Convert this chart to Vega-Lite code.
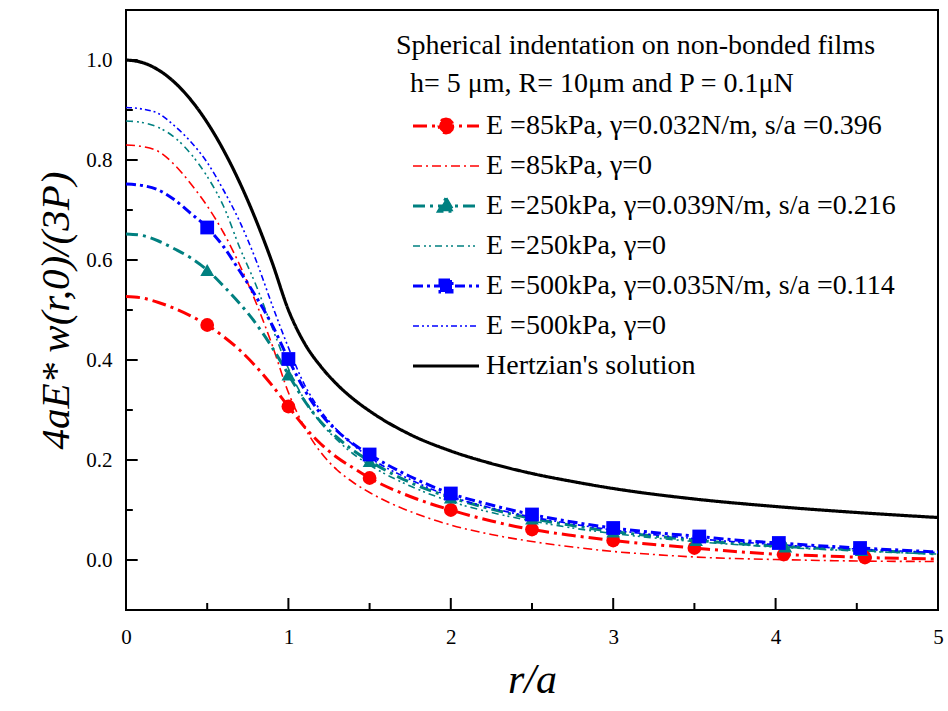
{
  "$schema": "https://vega.github.io/schema/vega-lite/v6.json",
  "width": 812,
  "height": 600,
  "autosize": {"type": "none"},
  "padding": {"left": 126, "top": 10, "right": 10, "bottom": 101},
  "background": "white",
  "config": {
    "font": "Liberation Serif",
    "view": {"stroke": "black", "strokeWidth": 2},
    "axis": {"grid": false, "domain": false, "ticks": false, "labelColor": "black", "titleColor": "black", "labelFont": "Liberation Serif", "labelFontSize": 21, "titleFont": "Liberation Serif", "titleFontWeight": "normal", "titleFontStyle": "italic"}
  },
  "datasets": {
    "curves": [
      {"r":0,"v":0.527,"s":"E =85kPa, γ=0.032N/m, s/a =0.396"},{"r":0.1,"v":0.524,"s":"E =85kPa, γ=0.032N/m, s/a =0.396"},{"r":0.2,"v":0.515,"s":"E =85kPa, γ=0.032N/m, s/a =0.396"},{"r":0.3,"v":0.503,"s":"E =85kPa, γ=0.032N/m, s/a =0.396"},{"r":0.4,"v":0.488,"s":"E =85kPa, γ=0.032N/m, s/a =0.396"},{"r":0.5,"v":0.47,"s":"E =85kPa, γ=0.032N/m, s/a =0.396"},{"r":0.6,"v":0.447,"s":"E =85kPa, γ=0.032N/m, s/a =0.396"},{"r":0.7,"v":0.42,"s":"E =85kPa, γ=0.032N/m, s/a =0.396"},{"r":0.8,"v":0.387,"s":"E =85kPa, γ=0.032N/m, s/a =0.396"},{"r":0.9,"v":0.349,"s":"E =85kPa, γ=0.032N/m, s/a =0.396"},{"r":1.0,"v":0.307,"s":"E =85kPa, γ=0.032N/m, s/a =0.396"},{"r":1.1,"v":0.266,"s":"E =85kPa, γ=0.032N/m, s/a =0.396"},{"r":1.2,"v":0.232,"s":"E =85kPa, γ=0.032N/m, s/a =0.396"},{"r":1.3,"v":0.205,"s":"E =85kPa, γ=0.032N/m, s/a =0.396"},{"r":1.4,"v":0.184,"s":"E =85kPa, γ=0.032N/m, s/a =0.396"},{"r":1.5,"v":0.164,"s":"E =85kPa, γ=0.032N/m, s/a =0.396"},{"r":1.75,"v":0.127,"s":"E =85kPa, γ=0.032N/m, s/a =0.396"},{"r":2.0,"v":0.1,"s":"E =85kPa, γ=0.032N/m, s/a =0.396"},{"r":2.25,"v":0.078,"s":"E =85kPa, γ=0.032N/m, s/a =0.396"},{"r":2.5,"v":0.061,"s":"E =85kPa, γ=0.032N/m, s/a =0.396"},{"r":2.75,"v":0.049,"s":"E =85kPa, γ=0.032N/m, s/a =0.396"},{"r":3.0,"v":0.039,"s":"E =85kPa, γ=0.032N/m, s/a =0.396"},{"r":3.25,"v":0.031,"s":"E =85kPa, γ=0.032N/m, s/a =0.396"},{"r":3.5,"v":0.024,"s":"E =85kPa, γ=0.032N/m, s/a =0.396"},{"r":3.75,"v":0.017,"s":"E =85kPa, γ=0.032N/m, s/a =0.396"},{"r":4.05,"v":0.011,"s":"E =85kPa, γ=0.032N/m, s/a =0.396"},{"r":4.3,"v":0.008,"s":"E =85kPa, γ=0.032N/m, s/a =0.396"},{"r":4.55,"v":0.005,"s":"E =85kPa, γ=0.032N/m, s/a =0.396"},{"r":5.0,"v":0.002,"s":"E =85kPa, γ=0.032N/m, s/a =0.396"},
      {"r":0,"v":0.83,"s":"E =85kPa, γ=0"},{"r":0.1,"v":0.827,"s":"E =85kPa, γ=0"},{"r":0.2,"v":0.817,"s":"E =85kPa, γ=0"},{"r":0.3,"v":0.79,"s":"E =85kPa, γ=0"},{"r":0.4,"v":0.752,"s":"E =85kPa, γ=0"},{"r":0.5,"v":0.708,"s":"E =85kPa, γ=0"},{"r":0.6,"v":0.655,"s":"E =85kPa, γ=0"},{"r":0.7,"v":0.59,"s":"E =85kPa, γ=0"},{"r":0.8,"v":0.515,"s":"E =85kPa, γ=0"},{"r":0.9,"v":0.43,"s":"E =85kPa, γ=0"},{"r":1.0,"v":0.335,"s":"E =85kPa, γ=0"},{"r":1.1,"v":0.265,"s":"E =85kPa, γ=0"},{"r":1.2,"v":0.215,"s":"E =85kPa, γ=0"},{"r":1.3,"v":0.18,"s":"E =85kPa, γ=0"},{"r":1.4,"v":0.155,"s":"E =85kPa, γ=0"},{"r":1.5,"v":0.135,"s":"E =85kPa, γ=0"},{"r":1.6,"v":0.118,"s":"E =85kPa, γ=0"},{"r":1.75,"v":0.097,"s":"E =85kPa, γ=0"},{"r":2.0,"v":0.07,"s":"E =85kPa, γ=0"},{"r":2.25,"v":0.051,"s":"E =85kPa, γ=0"},{"r":2.5,"v":0.037,"s":"E =85kPa, γ=0"},{"r":2.75,"v":0.026,"s":"E =85kPa, γ=0"},{"r":3.0,"v":0.017,"s":"E =85kPa, γ=0"},{"r":3.25,"v":0.011,"s":"E =85kPa, γ=0"},{"r":3.5,"v":0.006,"s":"E =85kPa, γ=0"},{"r":4.0,"v":0.001,"s":"E =85kPa, γ=0"},{"r":4.5,"v":-0.002,"s":"E =85kPa, γ=0"},{"r":5.0,"v":-0.003,"s":"E =85kPa, γ=0"},
      {"r":0,"v":0.652,"s":"E =250kPa, γ=0.039N/m, s/a =0.216"},{"r":0.1,"v":0.649,"s":"E =250kPa, γ=0.039N/m, s/a =0.216"},{"r":0.2,"v":0.638,"s":"E =250kPa, γ=0.039N/m, s/a =0.216"},{"r":0.3,"v":0.622,"s":"E =250kPa, γ=0.039N/m, s/a =0.216"},{"r":0.4,"v":0.604,"s":"E =250kPa, γ=0.039N/m, s/a =0.216"},{"r":0.5,"v":0.58,"s":"E =250kPa, γ=0.039N/m, s/a =0.216"},{"r":0.6,"v":0.548,"s":"E =250kPa, γ=0.039N/m, s/a =0.216"},{"r":0.7,"v":0.513,"s":"E =250kPa, γ=0.039N/m, s/a =0.216"},{"r":0.8,"v":0.473,"s":"E =250kPa, γ=0.039N/m, s/a =0.216"},{"r":0.9,"v":0.425,"s":"E =250kPa, γ=0.039N/m, s/a =0.216"},{"r":1.0,"v":0.371,"s":"E =250kPa, γ=0.039N/m, s/a =0.216"},{"r":1.1,"v":0.318,"s":"E =250kPa, γ=0.039N/m, s/a =0.216"},{"r":1.2,"v":0.276,"s":"E =250kPa, γ=0.039N/m, s/a =0.216"},{"r":1.3,"v":0.245,"s":"E =250kPa, γ=0.039N/m, s/a =0.216"},{"r":1.4,"v":0.219,"s":"E =250kPa, γ=0.039N/m, s/a =0.216"},{"r":1.5,"v":0.198,"s":"E =250kPa, γ=0.039N/m, s/a =0.216"},{"r":1.75,"v":0.155,"s":"E =250kPa, γ=0.039N/m, s/a =0.216"},{"r":2.0,"v":0.125,"s":"E =250kPa, γ=0.039N/m, s/a =0.216"},{"r":2.25,"v":0.102,"s":"E =250kPa, γ=0.039N/m, s/a =0.216"},{"r":2.5,"v":0.083,"s":"E =250kPa, γ=0.039N/m, s/a =0.216"},{"r":2.75,"v":0.069,"s":"E =250kPa, γ=0.039N/m, s/a =0.216"},{"r":3.0,"v":0.057,"s":"E =250kPa, γ=0.039N/m, s/a =0.216"},{"r":3.25,"v":0.048,"s":"E =250kPa, γ=0.039N/m, s/a =0.216"},{"r":3.5,"v":0.04,"s":"E =250kPa, γ=0.039N/m, s/a =0.216"},{"r":3.75,"v":0.033,"s":"E =250kPa, γ=0.039N/m, s/a =0.216"},{"r":4.06,"v":0.027,"s":"E =250kPa, γ=0.039N/m, s/a =0.216"},{"r":4.3,"v":0.023,"s":"E =250kPa, γ=0.039N/m, s/a =0.216"},{"r":4.53,"v":0.02,"s":"E =250kPa, γ=0.039N/m, s/a =0.216"},{"r":5.0,"v":0.012,"s":"E =250kPa, γ=0.039N/m, s/a =0.216"},
      {"r":0,"v":0.878,"s":"E =250kPa, γ=0"},{"r":0.1,"v":0.875,"s":"E =250kPa, γ=0"},{"r":0.2,"v":0.865,"s":"E =250kPa, γ=0"},{"r":0.3,"v":0.845,"s":"E =250kPa, γ=0"},{"r":0.4,"v":0.812,"s":"E =250kPa, γ=0"},{"r":0.5,"v":0.767,"s":"E =250kPa, γ=0"},{"r":0.6,"v":0.708,"s":"E =250kPa, γ=0"},{"r":0.7,"v":0.625,"s":"E =250kPa, γ=0"},{"r":0.8,"v":0.55,"s":"E =250kPa, γ=0"},{"r":0.9,"v":0.465,"s":"E =250kPa, γ=0"},{"r":1.0,"v":0.383,"s":"E =250kPa, γ=0"},{"r":1.1,"v":0.32,"s":"E =250kPa, γ=0"},{"r":1.2,"v":0.274,"s":"E =250kPa, γ=0"},{"r":1.3,"v":0.24,"s":"E =250kPa, γ=0"},{"r":1.4,"v":0.212,"s":"E =250kPa, γ=0"},{"r":1.5,"v":0.19,"s":"E =250kPa, γ=0"},{"r":1.75,"v":0.148,"s":"E =250kPa, γ=0"},{"r":2.0,"v":0.117,"s":"E =250kPa, γ=0"},{"r":2.25,"v":0.095,"s":"E =250kPa, γ=0"},{"r":2.5,"v":0.078,"s":"E =250kPa, γ=0"},{"r":2.75,"v":0.064,"s":"E =250kPa, γ=0"},{"r":3.0,"v":0.053,"s":"E =250kPa, γ=0"},{"r":3.5,"v":0.037,"s":"E =250kPa, γ=0"},{"r":4.0,"v":0.026,"s":"E =250kPa, γ=0"},{"r":4.5,"v":0.018,"s":"E =250kPa, γ=0"},{"r":5.0,"v":0.012,"s":"E =250kPa, γ=0"},
      {"r":0,"v":0.752,"s":"E =500kPa, γ=0.035N/m, s/a =0.114"},{"r":0.1,"v":0.749,"s":"E =500kPa, γ=0.035N/m, s/a =0.114"},{"r":0.2,"v":0.74,"s":"E =500kPa, γ=0.035N/m, s/a =0.114"},{"r":0.3,"v":0.72,"s":"E =500kPa, γ=0.035N/m, s/a =0.114"},{"r":0.4,"v":0.693,"s":"E =500kPa, γ=0.035N/m, s/a =0.114"},{"r":0.5,"v":0.665,"s":"E =500kPa, γ=0.035N/m, s/a =0.114"},{"r":0.6,"v":0.627,"s":"E =500kPa, γ=0.035N/m, s/a =0.114"},{"r":0.7,"v":0.578,"s":"E =500kPa, γ=0.035N/m, s/a =0.114"},{"r":0.8,"v":0.527,"s":"E =500kPa, γ=0.035N/m, s/a =0.114"},{"r":0.9,"v":0.47,"s":"E =500kPa, γ=0.035N/m, s/a =0.114"},{"r":1.0,"v":0.402,"s":"E =500kPa, γ=0.035N/m, s/a =0.114"},{"r":1.1,"v":0.34,"s":"E =500kPa, γ=0.035N/m, s/a =0.114"},{"r":1.2,"v":0.292,"s":"E =500kPa, γ=0.035N/m, s/a =0.114"},{"r":1.3,"v":0.258,"s":"E =500kPa, γ=0.035N/m, s/a =0.114"},{"r":1.4,"v":0.232,"s":"E =500kPa, γ=0.035N/m, s/a =0.114"},{"r":1.5,"v":0.211,"s":"E =500kPa, γ=0.035N/m, s/a =0.114"},{"r":1.75,"v":0.167,"s":"E =500kPa, γ=0.035N/m, s/a =0.114"},{"r":2.0,"v":0.133,"s":"E =500kPa, γ=0.035N/m, s/a =0.114"},{"r":2.25,"v":0.11,"s":"E =500kPa, γ=0.035N/m, s/a =0.114"},{"r":2.5,"v":0.091,"s":"E =500kPa, γ=0.035N/m, s/a =0.114"},{"r":2.75,"v":0.076,"s":"E =500kPa, γ=0.035N/m, s/a =0.114"},{"r":3.0,"v":0.064,"s":"E =500kPa, γ=0.035N/m, s/a =0.114"},{"r":3.25,"v":0.055,"s":"E =500kPa, γ=0.035N/m, s/a =0.114"},{"r":3.53,"v":0.047,"s":"E =500kPa, γ=0.035N/m, s/a =0.114"},{"r":3.75,"v":0.04,"s":"E =500kPa, γ=0.035N/m, s/a =0.114"},{"r":4.02,"v":0.034,"s":"E =500kPa, γ=0.035N/m, s/a =0.114"},{"r":4.25,"v":0.029,"s":"E =500kPa, γ=0.035N/m, s/a =0.114"},{"r":4.52,"v":0.024,"s":"E =500kPa, γ=0.035N/m, s/a =0.114"},{"r":5.0,"v":0.016,"s":"E =500kPa, γ=0.035N/m, s/a =0.114"},
      {"r":0,"v":0.905,"s":"E =500kPa, γ=0"},{"r":0.1,"v":0.902,"s":"E =500kPa, γ=0"},{"r":0.2,"v":0.893,"s":"E =500kPa, γ=0"},{"r":0.3,"v":0.868,"s":"E =500kPa, γ=0"},{"r":0.4,"v":0.836,"s":"E =500kPa, γ=0"},{"r":0.5,"v":0.795,"s":"E =500kPa, γ=0"},{"r":0.6,"v":0.74,"s":"E =500kPa, γ=0"},{"r":0.7,"v":0.677,"s":"E =500kPa, γ=0"},{"r":0.8,"v":0.6,"s":"E =500kPa, γ=0"},{"r":0.9,"v":0.51,"s":"E =500kPa, γ=0"},{"r":1.0,"v":0.425,"s":"E =500kPa, γ=0"},{"r":1.1,"v":0.35,"s":"E =500kPa, γ=0"},{"r":1.2,"v":0.298,"s":"E =500kPa, γ=0"},{"r":1.3,"v":0.26,"s":"E =500kPa, γ=0"},{"r":1.4,"v":0.23,"s":"E =500kPa, γ=0"},{"r":1.5,"v":0.205,"s":"E =500kPa, γ=0"},{"r":1.75,"v":0.161,"s":"E =500kPa, γ=0"},{"r":2.0,"v":0.127,"s":"E =500kPa, γ=0"},{"r":2.25,"v":0.104,"s":"E =500kPa, γ=0"},{"r":2.5,"v":0.086,"s":"E =500kPa, γ=0"},{"r":2.75,"v":0.072,"s":"E =500kPa, γ=0"},{"r":3.0,"v":0.06,"s":"E =500kPa, γ=0"},{"r":3.5,"v":0.043,"s":"E =500kPa, γ=0"},{"r":4.0,"v":0.031,"s":"E =500kPa, γ=0"},{"r":4.5,"v":0.022,"s":"E =500kPa, γ=0"},{"r":5.0,"v":0.015,"s":"E =500kPa, γ=0"},
      {"r":0,"v":1.0,"s":"Hertzian's solution"},{"r":0.1,"v":0.995,"s":"Hertzian's solution"},{"r":0.2,"v":0.98,"s":"Hertzian's solution"},{"r":0.3,"v":0.955,"s":"Hertzian's solution"},{"r":0.4,"v":0.92,"s":"Hertzian's solution"},{"r":0.5,"v":0.875,"s":"Hertzian's solution"},{"r":0.6,"v":0.82,"s":"Hertzian's solution"},{"r":0.7,"v":0.755,"s":"Hertzian's solution"},{"r":0.8,"v":0.68,"s":"Hertzian's solution"},{"r":0.9,"v":0.595,"s":"Hertzian's solution"},{"r":1.0,"v":0.5,"s":"Hertzian's solution"},{"r":1.1,"v":0.433,"s":"Hertzian's solution"},{"r":1.2,"v":0.387,"s":"Hertzian's solution"},{"r":1.3,"v":0.351,"s":"Hertzian's solution"},{"r":1.4,"v":0.322,"s":"Hertzian's solution"},{"r":1.5,"v":0.298,"s":"Hertzian's solution"},{"r":1.75,"v":0.251,"s":"Hertzian's solution"},{"r":2.0,"v":0.218,"s":"Hertzian's solution"},{"r":2.25,"v":0.193,"s":"Hertzian's solution"},{"r":2.5,"v":0.173,"s":"Hertzian's solution"},{"r":2.75,"v":0.157,"s":"Hertzian's solution"},{"r":3.0,"v":0.143,"s":"Hertzian's solution"},{"r":3.5,"v":0.122,"s":"Hertzian's solution"},{"r":4.0,"v":0.107,"s":"Hertzian's solution"},{"r":4.5,"v":0.095,"s":"Hertzian's solution"},{"r":5.0,"v":0.085,"s":"Hertzian's solution"}
    ],
    "markers": [
      {"r":0.5,"v":0.47,"s":"E =85kPa, γ=0.032N/m, s/a =0.396"},{"r":1.0,"v":0.307,"s":"E =85kPa, γ=0.032N/m, s/a =0.396"},{"r":1.5,"v":0.164,"s":"E =85kPa, γ=0.032N/m, s/a =0.396"},{"r":2.0,"v":0.1,"s":"E =85kPa, γ=0.032N/m, s/a =0.396"},{"r":2.5,"v":0.061,"s":"E =85kPa, γ=0.032N/m, s/a =0.396"},{"r":3.0,"v":0.039,"s":"E =85kPa, γ=0.032N/m, s/a =0.396"},{"r":3.5,"v":0.024,"s":"E =85kPa, γ=0.032N/m, s/a =0.396"},{"r":4.05,"v":0.011,"s":"E =85kPa, γ=0.032N/m, s/a =0.396"},{"r":4.55,"v":0.005,"s":"E =85kPa, γ=0.032N/m, s/a =0.396"},
      {"r":0.5,"v":0.58,"s":"E =250kPa, γ=0.039N/m, s/a =0.216"},{"r":1.0,"v":0.371,"s":"E =250kPa, γ=0.039N/m, s/a =0.216"},{"r":1.5,"v":0.198,"s":"E =250kPa, γ=0.039N/m, s/a =0.216"},{"r":2.0,"v":0.125,"s":"E =250kPa, γ=0.039N/m, s/a =0.216"},{"r":2.5,"v":0.083,"s":"E =250kPa, γ=0.039N/m, s/a =0.216"},{"r":3.0,"v":0.057,"s":"E =250kPa, γ=0.039N/m, s/a =0.216"},{"r":3.51,"v":0.04,"s":"E =250kPa, γ=0.039N/m, s/a =0.216"},{"r":4.06,"v":0.027,"s":"E =250kPa, γ=0.039N/m, s/a =0.216"},{"r":4.53,"v":0.02,"s":"E =250kPa, γ=0.039N/m, s/a =0.216"},
      {"r":0.5,"v":0.665,"s":"E =500kPa, γ=0.035N/m, s/a =0.114"},{"r":1.0,"v":0.402,"s":"E =500kPa, γ=0.035N/m, s/a =0.114"},{"r":1.5,"v":0.211,"s":"E =500kPa, γ=0.035N/m, s/a =0.114"},{"r":2.0,"v":0.133,"s":"E =500kPa, γ=0.035N/m, s/a =0.114"},{"r":2.5,"v":0.091,"s":"E =500kPa, γ=0.035N/m, s/a =0.114"},{"r":3.0,"v":0.064,"s":"E =500kPa, γ=0.035N/m, s/a =0.114"},{"r":3.53,"v":0.047,"s":"E =500kPa, γ=0.035N/m, s/a =0.114"},{"r":4.02,"v":0.034,"s":"E =500kPa, γ=0.035N/m, s/a =0.114"},{"r":4.52,"v":0.024,"s":"E =500kPa, γ=0.035N/m, s/a =0.114"}
    ],
    "xmajor": [{"t":1},{"t":2},{"t":3},{"t":4}],
    "xminor": [{"t":0.5},{"t":1.5},{"t":2.5},{"t":3.5},{"t":4.5}],
    "ymajor": [{"t":0},{"t":0.2},{"t":0.4},{"t":0.6},{"t":0.8},{"t":1.0}],
    "yminor": [{"t":0.1},{"t":0.3},{"t":0.5},{"t":0.7},{"t":0.9}]
  },
  "layer": [
    {
      "data": {"name": "xmajor"},
      "mark": {"type": "rule", "color": "black", "strokeWidth": 2},
      "encoding": {"x": {"field": "t", "type": "quantitative"}, "y": {"datum": -0.1}, "y2": {"datum": -0.076}}
    },
    {
      "data": {"name": "xminor"},
      "mark": {"type": "rule", "color": "black", "strokeWidth": 2},
      "encoding": {"x": {"field": "t", "type": "quantitative"}, "y": {"datum": -0.1}, "y2": {"datum": -0.086}}
    },
    {
      "data": {"name": "ymajor"},
      "mark": {"type": "rule", "color": "black", "strokeWidth": 2},
      "encoding": {"y": {"field": "t", "type": "quantitative"}, "x": {"datum": 0}, "x2": {"datum": 0.072}}
    },
    {
      "data": {"name": "yminor"},
      "mark": {"type": "rule", "color": "black", "strokeWidth": 2},
      "encoding": {"y": {"field": "t", "type": "quantitative"}, "x": {"datum": 0}, "x2": {"datum": 0.042}}
    },
    {
      "data": {"name": "curves"},
      "mark": {"type": "line", "interpolate": "monotone", "clip": true},
      "encoding": {
        "x": {"field": "r", "type": "quantitative", "scale": {"domain": [0, 5], "nice": false, "zero": false},
              "axis": {"orient": "bottom", "values": [0, 1, 2, 3, 4, 5], "format": ".0f", "ticks": false, "labelFont": "Liberation Serif", "labelFontSize": 21, "labelPadding": 16, "labelFlush": false, "title": "r/a", "titleFontSize": 42, "titlePadding": 12}},
        "y": {"field": "v", "type": "quantitative", "scale": {"domain": [-0.1, 1.1], "nice": false, "zero": false},
              "axis": {"orient": "left", "values": [0, 0.2, 0.4, 0.6, 0.8, 1.0], "format": ".1f", "ticks": false, "labelFont": "Liberation Serif", "labelFontSize": 21, "labelPadding": 14, "labelFlush": false, "title": "4aE* w(r,0)/(3P)", "titleFontSize": 41, "titlePadding": 8}},
        "color": {"field": "s", "type": "nominal",
          "scale": {"domain": ["E =85kPa, γ=0.032N/m, s/a =0.396", "E =85kPa, γ=0", "E =250kPa, γ=0.039N/m, s/a =0.216", "E =250kPa, γ=0", "E =500kPa, γ=0.035N/m, s/a =0.114", "E =500kPa, γ=0", "Hertzian's solution"],
                    "range": ["#FF0000", "#FF0000", "#008080", "#008080", "#0000FF", "#0000FF", "#000000"]},
          "legend": {
            "orient": "none", "legendX": 270, "legendY": 22,
            "title": ["Spherical indentation on non-bonded films", "\u200b\u00a0\u00a0h= 5 μm, R= 10μm and P = 0.1μN"],
            "titleFont": "Liberation Serif", "titleFontSize": 28, "titleFontWeight": "normal", "titleColor": "black", "titleLineHeight": 38, "titlePadding": 14, "titleLimit": 700,
            "labelFont": "Liberation Serif", "labelFontSize": 28, "labelColor": "black", "labelLimit": 700, "labelOffset": 62,
            "symbolSize": 400, "rowPadding": 12, "padding": 0,
            "encode": {
              "symbols": {
                "update": {
                  "shape": {"signal": "['M0.3,0H6.9M4.3,0L4.206,0.35L3.95,0.606L3.6,0.7L3.25,0.606L2.994,0.35L2.9,0L2.994,-0.35L3.25,-0.606L3.6,-0.7L3.95,-0.606L4.206,-0.35Z','M0.3,0H6.9','M0.3,0H6.9M3.6,-0.78L4.35,0.52L2.85,0.52Z','M0.3,0H6.9','M0.3,0H6.9M3.0,-0.6L4.2,-0.6L4.2,0.6L3.0,0.6Z','M0.3,0H6.9','M0.3,0H6.9'][datum.index]"},
                  "fill": {"signal": "['#FF0000','transparent','#008080','transparent','#0000FF','transparent','transparent'][datum.index]"},
                  "stroke": {"signal": "['#FF0000','#FF0000','#008080','#008080','#0000FF','#0000FF','#000000'][datum.index]"},
                  "strokeWidth": {"signal": "[3,1.6,3,1.6,3,1.6,3.2][datum.index]"},
                  "strokeDash": {"signal": "[[14,5,3,5],[9,4,2,4],[12,5,3,5],[7,4,2,3,2,4],[10,4,3,4],[6,3,2,3,2,3],[1,0]][datum.index]"},
                  "opacity": {"value": 1}
                }
              }
            }
          }
        },
        "strokeDash": {"field": "s", "type": "nominal", "legend": null,
          "scale": {"domain": ["E =85kPa, γ=0.032N/m, s/a =0.396", "E =85kPa, γ=0", "E =250kPa, γ=0.039N/m, s/a =0.216", "E =250kPa, γ=0", "E =500kPa, γ=0.035N/m, s/a =0.114", "E =500kPa, γ=0", "Hertzian's solution"],
                    "range": [[14,5,3,5],[9,4,2,4],[12,5,3,5],[7,4,2,3,2,4],[10,4,3,4],[6,3,2,3,2,3],[1,0]]}},
        "strokeWidth": {"field": "s", "type": "nominal", "legend": null,
          "scale": {"type": "ordinal", "domain": ["E =85kPa, γ=0.032N/m, s/a =0.396", "E =85kPa, γ=0", "E =250kPa, γ=0.039N/m, s/a =0.216", "E =250kPa, γ=0", "E =500kPa, γ=0.035N/m, s/a =0.114", "E =500kPa, γ=0", "Hertzian's solution"],
                    "range": [3, 1.6, 3, 1.6, 3, 1.6, 3.2]}}
      }
    },
    {
      "data": {"name": "markers"},
      "mark": {"type": "point", "filled": true, "opacity": 1, "size": 190},
      "encoding": {
        "x": {"field": "r", "type": "quantitative", "scale": {"domain": [0, 5], "nice": false, "zero": false},
              "axis": {"orient": "bottom", "values": [0, 1, 2, 3, 4, 5], "format": ".0f", "ticks": false, "labelFont": "Liberation Serif", "labelFontSize": 21, "labelPadding": 16, "labelFlush": false, "title": "r/a", "titleFontSize": 42, "titlePadding": 12}},
        "y": {"field": "v", "type": "quantitative", "scale": {"domain": [-0.1, 1.1], "nice": false, "zero": false},
              "axis": {"orient": "left", "values": [0, 0.2, 0.4, 0.6, 0.8, 1.0], "format": ".1f", "ticks": false, "labelFont": "Liberation Serif", "labelFontSize": 21, "labelPadding": 14, "labelFlush": false, "title": "4aE* w(r,0)/(3P)", "titleFontSize": 41, "titlePadding": 8}},
        "color": {"field": "s", "type": "nominal", "legend": null},
        "shape": {"field": "s", "type": "nominal", "legend": null,
          "scale": {"domain": ["E =85kPa, γ=0.032N/m, s/a =0.396", "E =250kPa, γ=0.039N/m, s/a =0.216", "E =500kPa, γ=0.035N/m, s/a =0.114"], "range": ["circle", "triangle-up", "square"]}}
      }
    }
  ]
}
